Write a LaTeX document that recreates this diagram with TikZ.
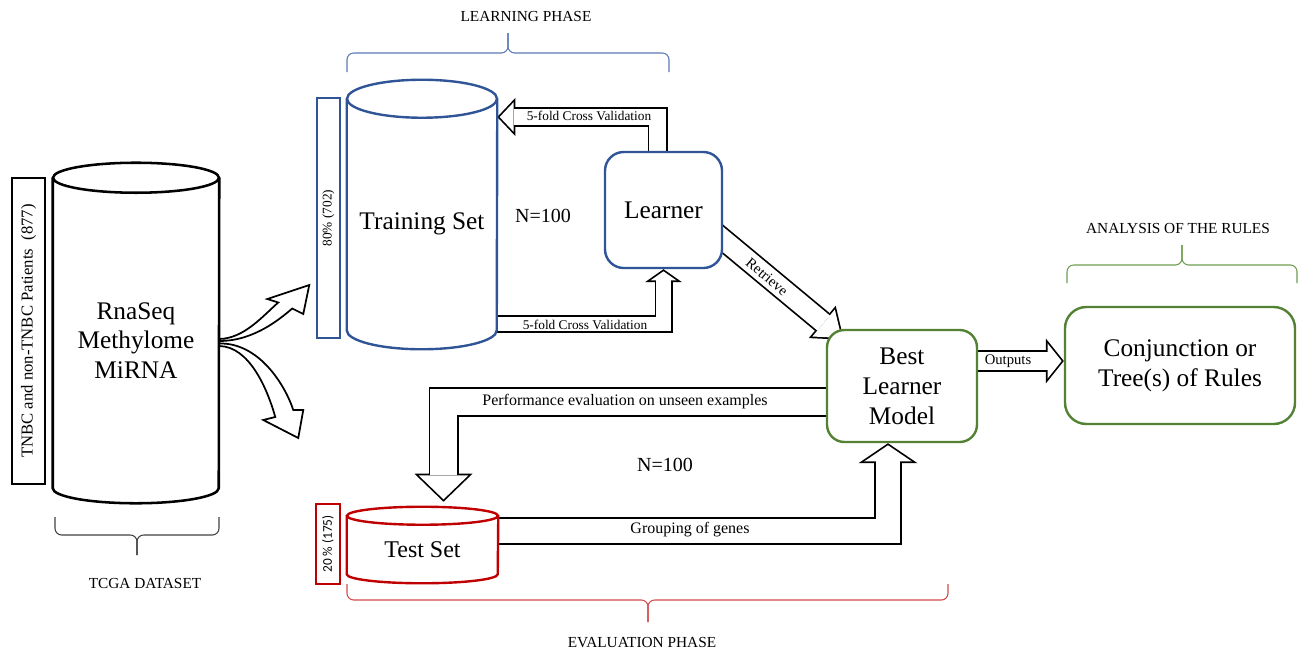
\documentclass[tikz,border=0pt]{standalone}
\usepackage{fontspec}
\setmainfont{Liberation Serif}
\newfontfamily\calibri{Carlito}
\usetikzlibrary{arrows.meta, calc, backgrounds, positioning}

\definecolor{setblue}{HTML}{2F5597}
\definecolor{modelgreen}{HTML}{548235}
\definecolor{testred}{HTML}{C00000}
\definecolor{learnbrace}{HTML}{5A7AB5}
\definecolor{evalbrace}{HTML}{D24B4B}
\definecolor{rulebrace}{HTML}{6E9C50}

\newcommand{\px}{0.75pt}

% cylinder outline round a node: node, x radius, y radius
\newcommand{\drawcyl}[4][]{%
  \draw[#1] (#2.north west) -- ($(#2.south west)+(0,-#4)$)
    arc[start angle=180, end angle=0, x radius=#3, y radius=#4] -- (#2.north east);
  \draw[#1] (#2.north) ellipse[x radius=#3, y radius=#4];
}

% hollow block arrow: shaft, head width, head length (px), path
\newcommand{\hollowarrow}[4]{%
  \pgfmathsetmacro{\shaftw}{0.75*#1}%
  \pgfmathsetmacro{\innershaft}{0.75*#1-2.6}%
  \pgfmathsetmacro{\headw}{0.75*#2}%
  \pgfmathsetmacro{\headl}{0.75*#3}%
  \pgfmathsetmacro{\backoff}{1.3*sqrt((\headw/2)^2+\headl^2)/(\headw/2)}%
  \pgfmathsetmacro{\innerl}{\headl-1.3-\backoff}%
  \pgfmathsetmacro{\innerw}{\headw*\innerl/\headl}%
  \draw[line width=\shaftw pt, -{Triangle[length=\headl pt, width=\headw pt, line width=0pt]}] #4;
  \draw[white, line width=\innershaft pt, shorten >=\backoff pt,
        -{Triangle[length=\innerl pt, width=\innerw pt, line width=0pt]}] #4;
}

\begin{document}
\begin{tikzpicture}[x=0.75pt, y=-0.75pt,
    cylbody/.style={inner sep=0pt, font=\fontsize{19}{22}\selectfont, align=center},
    box/.style={draw, line width=1.8pt, fill=white, rounded corners=14pt,
                font=\fontsize{19}{22.5}\selectfont, align=center},
    sidebox/.style={draw, line width=2pt, rotate=90, inner sep=0pt},
    phase/.style={font=\fontsize{11.5}{13}\selectfont},
    arrowlbl/.style={font=\fontsize{10}{12}\selectfont, inner sep=1pt},
    brace/.style={line width=0.8pt, rounded corners=5pt}
]
    \useasboundingbox (0,0) rectangle (1306,654);

    % data sets
    \node[sidebox, minimum width=306*\px, minimum height=33*\px, font=\fontsize{12.5}{14}\selectfont]
        (patients) at (28.5,331) {TNBC and non-TNBC Patients~~(877)};
    \node[cylbody, minimum width=166*\px, minimum height=325*\px] (data) at (136,340.5) {RnaSeq\\Methylome\\MiRNA};
    \drawcyl[line width=1.9pt]{data}{83}{15}

    \node[sidebox, draw=setblue, minimum width=240*\px, minimum height=23*\px, font=\fontsize{10}{12}\selectfont]
        (trainpct) at (328.5,218) {80\% (702)};
    \node[cylbody, minimum width=150*\px, minimum height=250*\px] (train) at (422,224) {Training Set};
    \drawcyl[setblue, line width=1.8pt]{train}{75}{19}

    \node[sidebox, draw=testred, minimum width=80*\px, minimum height=24*\px, font=\calibri\fontsize{10}{12}\selectfont]
        (testpct) at (328,544) {20 \% (175)};
    \node[cylbody, minimum width=151*\px, minimum height=67*\px, font=\fontsize{18}{21}\selectfont]
        (test) at (422.5,549.5) {Test Set};
    \drawcyl[testred, line width=1.8pt]{test}{75.5}{9}

    % models
    \node[box, draw=setblue, minimum width=117*\px, minimum height=116*\px] (learner) at (663.5,210) {Learner};
    \node[box, draw=modelgreen, rounded corners=13pt, minimum width=150*\px, minimum height=112*\px]
        (best) at (902,386) {Best\\Learner\\Model};
    \node[box, draw=modelgreen, rounded corners=16pt, minimum width=230*\px, minimum height=117*\px]
        (conj) at (1180,365.5) {Conjunction or\\Tree(s) of Rules};

    \node[font=\fontsize{15}{17}\selectfont] (nlearn) at (543,216) {N=100};
    \node[font=\fontsize{15}{17}\selectfont] (neval) at (665,465) {N=100};

    % block arrows
    \begin{scope}[on background layer]
        \hollowarrow{20}{38}{18}{($(learner.north)+(-6,0)$) |- ($(train.east)+(0,-107)$)}
        \hollowarrow{18}{37}{13}{($(train.east)+(0,100)$) -| (learner.south)}
        \hollowarrow{23}{42}{28}{($(learner.center)+(0,-20)$) -- ($(best.north west)+(18,11)$)}
        \hollowarrow{22}{45}{18}{($(best.east)+(0,-25)$) -- ($(conj.west)+(0,-4.5)$)}
        \hollowarrow{30}{58}{28}{($(best.west)+(0,16)$) -| ($(test.north)+(21,-14)$)}
        \hollowarrow{28}{59}{20}{($(test.east)+(0,-18.5)$) -| ($(best.south)+(-14,0)$)}
    \end{scope}

    \node[arrowlbl] (cvtop) at (589,116) {5-fold Cross Validation};
    \node[arrowlbl] (cvbottom) at (585,325) {5-fold Cross Validation};
    \node[arrowlbl, font=\fontsize{11}{13}\selectfont, rotate=-40] (retrieve) at (767,277) {Retrieve};
    \node[arrowlbl, font=\fontsize{11}{13}\selectfont] (outputs) at (1008,361) {Outputs};
    \node[arrowlbl, font=\fontsize{12}{14}\selectfont] (perf) at (625,402) {Performance evaluation on unseen examples};
    \node[arrowlbl, font=\fontsize{12}{14}\selectfont] (grouping) at (690,530) {Grouping of genes};

    % split of the data set
    \begin{scope}[shift={(data.east)}, line width=1.3pt]
        \draw[fill=white] (0,-1.5) .. controls (25,-2) and (44,-25) .. (59,-38) -- (48,-41.5) -- (90,-55.5)
            -- (84,-26.5) -- (73,-32) .. controls (61,-22) and (35,0.5) .. (0,0.5) -- cycle;
        \draw[fill=white] (0,3) .. controls (40,2) and (66,45) .. (74,69.5) -- (84,69.5) -- (79,97.5)
            -- (44,79.5) -- (56,76.5) .. controls (48,48) and (30,6) .. (0,5.5) -- cycle;
    \end{scope}

    % phases
    \draw[brace, learnbrace] (347,72) -- (347,53) -- (508,53) -- (508,33);
    \draw[brace, learnbrace] (669,72) -- (669,53) -- (508,53) -- (508,33);
    \node[phase] (learnlbl) at (526,16) {LEARNING PHASE};

    \draw[brace, black!75] (55,517) -- (55,535) -- (137,535) -- (137,555);
    \draw[brace, black!75] (219,517) -- (219,535) -- (137,535) -- (137,555);
    \node[phase] (tcgalbl) at (145,583) {TCGA DATASET};

    \draw[brace, evalbrace] (347,584) -- (347,600) -- (648,600) -- (648,622);
    \draw[brace, evalbrace] (948,584) -- (948,600) -- (648,600) -- (648,622);
    \node[phase] (evallbl) at (642,643) {EVALUATION PHASE};

    \draw[brace, rulebrace] (1067,283) -- (1067,265) -- (1182,265) -- (1182,245);
    \draw[brace, rulebrace] (1297,283) -- (1297,265) -- (1182,265) -- (1182,245);
    \node[phase] (rulelbl) at (1178,228) {ANALYSIS OF THE RULES};
\end{tikzpicture}
\end{document}
